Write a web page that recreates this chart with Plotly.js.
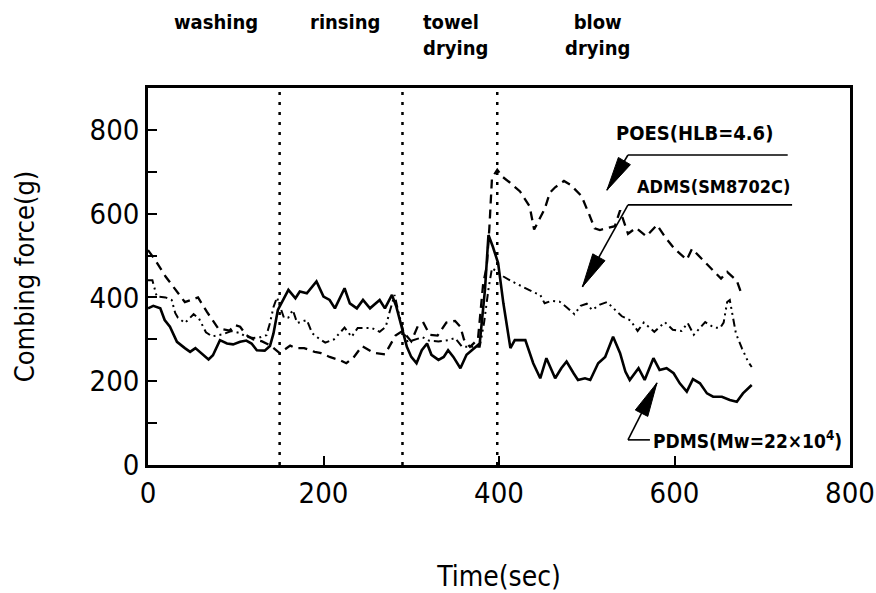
<!DOCTYPE html>
<html>
<head>
<meta charset="utf-8">
<script src="https://cdn.plot.ly/plotly-3.0.1.min.js"></script>
<style>html,body{margin:0;padding:0;background:#fff;}#chart{width:876px;height:593px;}
#chart svg text{font-stretch:condensed !important;}</style>
</head>
<body>
<div id="chart"></div>
<script>
// ---- data ----
const pdmsX = [0,6,14,19,25,33,42,48,54,61,69,74,82,90,97,105,112,118,124,133,139,143,148,160,168,173,181,192,200,207,213,224,230,238,245,253,264,270,278,283,289,295,300,306,312,318,323,331,337,342,348,356,363,373,378,384,388,393,399,405,413,418,430,439,447,454,464,471,477,485,490,498,504,513,521,530,538,544,549,559,566,576,583,591,599,606,614,621,629,637,644,654,663,671,678,688];
const pdmsY = [374,380,374,346,330,294,279,270,279,267,252,262,298,290,288,294,297,290,274,273,284,314,370,418,398,414,410,438,402,394,374,422,386,374,394,374,394,374,406,378,330,282,258,243,274,290,263,251,258,274,258,231,263,282,290,418,549,521,482,386,279,298,298,243,207,255,207,231,247,219,203,207,203,243,258,306,267,223,203,231,203,255,227,231,219,195,175,205,195,171,163,163,155,151,171,191];

const poesX = [0,8,20,34,42,57,67,80,93,99,105,112,120,130,140,150,162,168,178,190,196,207,219,226,234,244,257,270,282,290,300,308,314,321,330,340,350,356,360,367,376,382,386,389,392,398,404,412,424,435,440,452,458,464,474,482,494,503,509,515,532,538,547,556,568,580,589,600,614,620,632,643,653,660,671,677];
const poesY = [513,490,450,410,389,400,366,326,321,334,330,310,300,295,285,267,285,279,279,270,268,258,250,243,256,284,268,264,309,320,295,334,339,311,309,340,344,330,300,282,300,434,473,565,685,705,688,675,653,617,562,611,650,663,678,668,642,597,565,561,570,608,552,566,546,573,545,516,490,516,491,467,445,461,440,405];

const admsX = [0,5,10,20,27,31,34,42,52,58,66,73,85,95,105,112,120,128,135,139,143,147,155,160,165,170,181,187,192,202,212,224,232,239,247,255,264,271,275,281,286,291,296,302,313,320,331,342,350,358,365,372,378,383,388,392,398,405,415,424,430,440,447,452,460,469,478,486,493,500,506,515,523,533,540,550,558,565,577,589,598,608,615,622,628,635,645,652,656,660,663,670,677,684,688];
const admsY = [441,441,402,400,394,363,352,339,360,350,317,307,312,320,315,306,303,305,310,339,377,400,351,352,370,339,346,315,306,292,300,328,306,327,327,327,318,330,363,406,360,320,293,298,305,297,295,298,303,282,282,282,282,340,420,470,460,450,438,428,422,412,406,386,392,390,375,360,380,385,370,383,389,370,355,345,320,340,318,341,323,320,339,311,325,341,328,327,340,389,394,314,278,246,234];

const phaseBounds = [150, 290, 398];
const phaseLabels = ['washing', 'rinsing', 'towel<br>drying', 'blow<br>drying'];
const phaseLabelX = [77, 225, 311, 512];
const yTickVals = [0,100,200,300,400,500,600,700,800,900];
const yTickText = ['0','','200','','400','','600','','800',''];
const xTickVals = [0,200,400,600,800];
const xTickText = ['0','200','400','600','800'];
const seriesNames = ['POES(HLB=4.6)', 'ADMS(SM8702C)', 'PDMS(Mw=22×10<sup>4</sup>)'];

// ---- layout constants ----
const cond = '"DejaVu Sans Condensed", "DejaVu Sans", sans-serif';
const W = 876, H = 593, mL = 148, mR = 26, mT = 88, mB = 128;
const xMax = 800, yMax = 900;
const kx = (W - mL - mR) / xMax, ky = (H - mT - mB) / yMax;

function headPath(tip, tail, len, hw) {
  const dx = (tail[0] - tip[0]) * kx, dy = -(tail[1] - tip[1]) * ky;
  const d = Math.hypot(dx, dy), ux = dx / d, uy = dy / d;
  const bx = ux * len, by = uy * len;
  const p1 = [tip[0] + (bx - uy * hw) / kx, tip[1] - (by + ux * hw) / ky];
  const p2 = [tip[0] + (bx + uy * hw) / kx, tip[1] - (by - ux * hw) / ky];
  return `M${tip[0]},${tip[1]} L${p1[0]},${p1[1]} L${p2[0]},${p2[1]} Z`;
}

const traces = [
  {x: poesX, y: poesY, mode: 'lines', name: seriesNames[0], line: {color: '#000', width: 2.3, dash: '9px,6px'}},
  {x: admsX, y: admsY, mode: 'lines', name: seriesNames[1], line: {color: '#000', width: 2, dash: '8px,4px,2px,4px,2px,4px'}},
  {x: pdmsX, y: pdmsY, mode: 'lines', name: seriesNames[2], line: {color: '#000', width: 2.6}}
];

const shapes = phaseBounds.map(b => ({type: 'line', xref: 'x', yref: 'y', x0: b, x1: b, y0: 0, y1: yMax,
  line: {color: '#000', width: 2.5, dash: '3px,7px'}}));

const callouts = [
  {tail: [547, 740], tip: [523, 656], h0: 547, h1: 729},
  {tail: [547, 621], tip: [495, 425], h0: 547, h1: 734},
  {tail: [547, 60], tip: [580, 196], h0: 547, h1: 572}
];
callouts.forEach(c => {
  shapes.push({type: 'line', x0: c.h0, x1: c.h1, y0: c.tail[1], y1: c.tail[1], line: {color: '#000', width: 1.6}});
  shapes.push({type: 'line', x0: c.tail[0], x1: c.tip[0], y0: c.tail[1], y1: c.tip[1], line: {color: '#000', width: 1.6}});
  shapes.push({type: 'path', path: headPath(c.tip, c.tail, 34, 7), fillcolor: '#000', line: {color: '#000', width: 1}});
});

const annotations = [];
phaseLabels.forEach((t, i) => {
  annotations.push({text: t, xref: 'x', yref: 'paper', x: phaseLabelX[i], y: i >= 2 ? 1.14 : 1.175,
    xanchor: i === 2 ? 'left' : 'center', yanchor: 'middle', align: i === 2 ? 'left' : 'center', showarrow: false,
    font: {family: cond, size: 20, weight: 'bold', color: '#000'}});
});
annotations.push({text: seriesNames[0], x: 623, y: 793, xanchor: 'center', yanchor: 'middle', showarrow: false,
  font: {family: cond, size: 20, weight: 'bold', color: '#000'}});
annotations.push({text: seriesNames[1], x: 644, y: 664, xanchor: 'center', yanchor: 'middle', showarrow: false,
  font: {family: cond, size: 18, weight: 'bold', color: '#000'}});
annotations.push({text: seriesNames[2], x: 573, y: 60, xanchor: 'left', yanchor: 'middle', showarrow: false,
  font: {family: cond, size: 19, weight: 'bold', color: '#000'}});

const layout = {
  width: W, height: H,
  margin: {l: mL, r: mR, t: mT, b: mB},
  paper_bgcolor: '#fff', plot_bgcolor: '#fff',
  showlegend: false,
  xaxis: {range: [0, xMax], tickvals: xTickVals, ticktext: xTickText, ticks: 'inside', ticklen: 9, tickwidth: 2, tickcolor: '#000',
    showline: true, mirror: true, linecolor: '#000', linewidth: 2.8, showgrid: false, zeroline: false,
    ticklabeloverflow: 'allow',
    tickfont: {family: cond, size: 29, color: '#000'},
    title: {text: 'Time(sec)', font: {family: cond, size: 28, color: '#000'}, standoff: 58}},
  yaxis: {range: [0, yMax], tickvals: yTickVals, ticktext: yTickText, ticks: 'inside', ticklen: 9, tickwidth: 2, tickcolor: '#000',
    showline: true, mirror: true, linecolor: '#000', linewidth: 2.8, showgrid: false, zeroline: false,
    tickfont: {family: cond, size: 29, color: '#000'},
    title: {text: 'Combing force(g)', font: {family: cond, size: 27, color: '#000'}, standoff: 48}},
  shapes: shapes,
  annotations: annotations
};

Plotly.newPlot('chart', traces, layout, {displayModeBar: false, staticPlot: true});
</script>
</body>
</html>
